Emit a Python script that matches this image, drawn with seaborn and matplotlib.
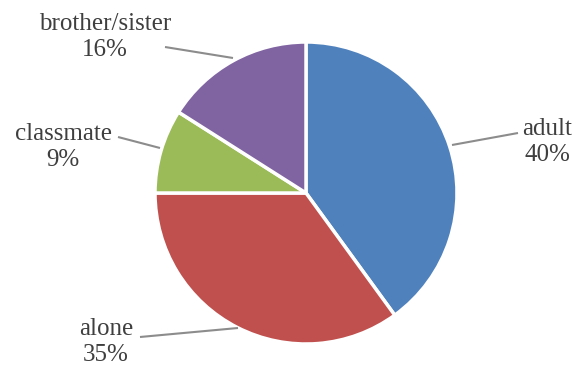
import matplotlib
matplotlib.use("Agg")
import matplotlib.pyplot as plt
import seaborn as sns

labels = ["adult", "alone", "classmate", "brother/sister"]
values = [40, 35, 9, 16]
colors = ["#4F81BD", "#C0504D", "#9BBB59", "#8064A2"]

sns.set_style("white")
plt.rcParams["font.family"] = ["Liberation Serif", "DejaVu Serif"]

W, H = 579, 367
fig = plt.figure(figsize=(W / 100, H / 100), dpi=100)
cx, cy, r = 306, 193, 151
ax = fig.add_axes([(cx - r) / W, (H - cy - r) / H, 2 * r / W, 2 * r / H])
ax.set_aspect("equal")
ax.axis("off")

wedges, _ = ax.pie(values, colors=colors, startangle=90, counterclock=False,
                   radius=1.0, center=(0, 0), frame=False,
                   wedgeprops=dict(edgecolor="white", linewidth=2.5))
ax.set_xlim(-1, 1)
ax.set_ylim(-1, 1)

def px(x, y):
    return ((x - cx) / r, (cy - y) / r)

# leader line layout (pixel coords): edge point, line end, text center
layout = [
    ((452, 145), (518, 133), (547, 142)),
    ((238, 328), (140, 337), (106, 342)),
    ((160, 148), (118, 137), (63, 147)),
    ((233, 58), (165, 47), (105, 37)),
]
for lab, v, (e, l, t) in zip(labels, values, layout):
    ex, ey = px(*e)
    lx, ly = px(*l)
    tx, ty = px(*t)
    ax.plot([ex, lx], [ey, ly], color="#8c8c8c", lw=1.5, clip_on=False,
            solid_capstyle="butt")
    ax.text(tx, ty, f"{lab}\n{v}%", ha="center", va="center", fontsize=18,
            color="#3f3f3f", linespacing=1.22, clip_on=False)

fig.savefig("out.png", dpi=100)
